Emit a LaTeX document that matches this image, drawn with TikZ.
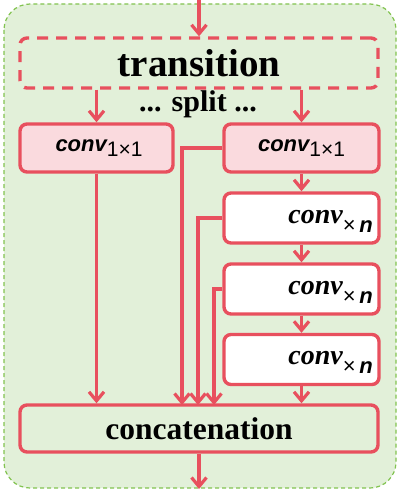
\documentclass[tikz,border=0pt]{standalone}
\usepackage{fontspec}
\setmainfont{Liberation Serif}
\newfontfamily\sansf{Liberation Sans}
\usetikzlibrary{arrows.meta}
\definecolor{rd}{RGB}{232,80,94}
\definecolor{pk}{RGB}{250,218,222}
\definecolor{gf}{RGB}{226,240,217}
\definecolor{gb}{RGB}{130,195,80}
\tikzset{
  box/.style={draw=rd, line width=3.4pt, rounded corners=7pt, inner sep=0pt},
  pinkbox/.style={box, fill=pk, minimum height=48pt},
  whitebox/.style={box, fill=white, minimum width=155pt, minimum height=50pt},
  arr/.style={draw=rd, line width=3.2pt, -{Straight Barb[length=9pt,width=15pt]}},
  lbl/.style={inner sep=0pt},
}
\newcommand{\convA}{{\sansf\bfseries\itshape\fontsize{22}{24}\selectfont conv}{\sansf\fontsize{21}{22}\selectfont\raisebox{-5pt}{1×1}}}
\newcommand{\convN}{{\bfseries\itshape\fontsize{28}{30}\selectfont conv}{\sansf\fontsize{22}{24}\selectfont\raisebox{-9pt}{×\,\textbf{\textit{n}}}}}
\begin{document}
\begin{tikzpicture}[x=1pt,y=-1pt]
\useasboundingbox (0,0) rectangle (400,492);
\draw[gb, fill=gf, dashed, line width=1.2pt, dash pattern=on 4pt off 3pt, rounded corners=26pt] (4,4) rectangle (396,488);
\node[box, dashed, dash pattern=on 11pt off 8pt, minimum width=358pt, minimum height=50pt] (tr) at (199,63) {};
\node[lbl] (trt) at (199,63) {\bfseries\fontsize{39}{42}\selectfont transition};
\node[lbl] (sp) at (198,104) {\bfseries\fontsize{30}{32}\selectfont ... split ...};
\node[pinkbox, minimum width=153pt] (l1) at (96.5,148) {};
\node[lbl] (l1t) at (99,148) {\convA};
\node[pinkbox, minimum width=155pt] (r1) at (301.5,148) {};
\node[lbl] (r1t) at (301.5,148) {\convA};
\node[whitebox] (b1) at (301.5,218) {};
\node[lbl, anchor=east] (b1t) at (373,221) {\convN};
\node[whitebox] (b2) at (301.5,289) {};
\node[lbl, anchor=east] (b2t) at (373,292) {\convN};
\node[whitebox] (b3) at (301.5,359.5) {};
\node[lbl, anchor=east] (b3t) at (373,362.5) {\convN};
\node[box, fill=gf, minimum width=358pt, minimum height=47pt] (cc) at (199,428.5) {};
\node[lbl] (cct) at (199,428.5) {\bfseries\fontsize{31.5}{34}\selectfont concatenation};
\coordinate (top) at (199,0);
\coordinate (bot) at (199,489);
\coordinate (j1) at (182,405);
\coordinate (j2) at (198,405);
\coordinate (j3) at (214,405);
\draw[arr] (top) -- (tr.north);
\draw[arr] (tr.south -| l1.north) -- (l1.north);
\draw[arr] (tr.south -| r1.north) -- (r1.north);
\draw[arr] (l1.south) -- (l1.south |- cc.north);
\draw[arr] (r1.south) -- (b1.north);
\draw[arr] (b1.south) -- (b2.north);
\draw[arr] (b2.south) -- (b3.north);
\draw[arr] (b3.south) -- (b3.south |- cc.north);
\draw[arr] (r1.west) -| (j1);
\draw[arr] (b1.west) -| (j2);
\draw[arr] (b2.west) -| (j3);
\draw[arr] (cc.south) -- (bot);
\end{tikzpicture}
\end{document}
